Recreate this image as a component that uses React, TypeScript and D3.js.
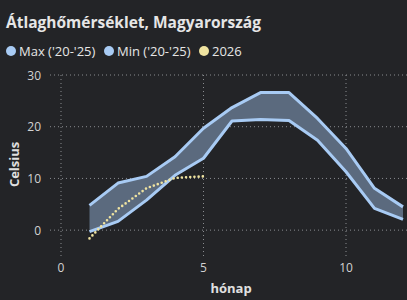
import React from "react";
import * as d3 from "d3";

const months = [1, 2, 3, 4, 5, 6, 7, 8, 9, 10, 11, 12];
const maxTemps = [4.8, 9.1, 10.4, 14.2, 19.7, 23.7, 26.6, 26.6, 21.6, 15.8, 8.1, 4.5];
const minTemps = [-0.3, 1.7, 5.8, 10.6, 13.9, 21.1, 21.4, 21.2, 17.4, 11.3, 4.2, 2.1];
const months2026 = [1, 2, 3, 4, 5];
const temps2026 = [-1.6, 4.1, 8.1, 10.1, 10.4];
const xTicks = [0, 5, 10];
const yTicks = [0, 10, 20, 30];
const legendItems = ["Max ('20-'25)", "Min ('20-'25)", "2026"];

const W = 407;
const H = 300;
const FONT = "'Open Sans', 'Segoe UI', sans-serif";
const BG = "#232427";
const LINE = "#a8cbf4";
const BAND = "#5b6a7e";
const YELLOW = "#efe3a0";
const GRID = "#8a8c90";
const TXT = "#d2d2d2";

export default function App() {
  const x = d3.scaleLinear().domain([0, 12]).range([61, 403]);
  const y = d3.scaleLinear().domain([-5, 30]).range([256, 75]);

  const area = d3
    .area<number>()
    .x((_, i) => x(months[i]))
    .y0((_, i) => y(minTemps[i]))
    .y1((_, i) => y(maxTemps[i]));
  const line = d3
    .line<number>()
    .x((_, i) => x(months[i]))
    .y((d) => y(d));
  const line26 = d3
    .line<number>()
    .x((_, i) => x(months2026[i]))
    .y((d) => y(d));

  const legendX = [11, 109, 204];
  const legendColors = [LINE, LINE, YELLOW];

  return (
    <svg width={W} height={H} style={{ position: "absolute", left: 0, top: 0, display: "block" }}>
      <rect width={W} height={H} fill={BG} />
      <text x={6} y={28} fill="#e6e6e6" fontFamily={FONT} fontWeight={700} fontSize={15.5}>
        Átlaghőmérséklet, Magyarország
      </text>
      {legendItems.map((t, i) => (
        <g key={t}>
          <circle cx={legendX[i]} cy={51} r={5} fill={legendColors[i]} />
          <text x={legendX[i] + 8} y={55.5} fill="#e6e6e6" fontFamily={FONT} fontSize={13}>
            {t}
          </text>
        </g>
      ))}
      {yTicks.map((t) => (
        <g key={"y" + t}>
          <line x1={50} x2={W} y1={y(t)} y2={y(t)} stroke={GRID} strokeWidth={1} strokeDasharray="1 3" />
          <text x={41} y={y(t) + 4.5} textAnchor="end" fill={TXT} fontFamily={FONT} fontSize={12}>
            {t}
          </text>
        </g>
      ))}
      {xTicks.map((t) => (
        <g key={"x" + t}>
          <line x1={x(t)} x2={x(t)} y1={75} y2={258} stroke={GRID} strokeWidth={1} strokeDasharray="1 3" />
          <text x={x(t)} y={272} textAnchor="middle" fill={TXT} fontFamily={FONT} fontSize={12}>
            {t}
          </text>
        </g>
      ))}
      <text
        transform={`translate(19,${y(10) - 14}) rotate(-90)`}
        textAnchor="middle"
        fill="#e0e0e0"
        fontFamily={FONT}
        fontWeight={700}
        fontSize={13}
      >
        Celsius
      </text>
      <text x={231} y={293} textAnchor="middle" fill="#e0e0e0" fontFamily={FONT} fontWeight={700} fontSize={13}>
        hónap
      </text>
      <path d={area(months) || ""} fill={BAND} />
      <path d={line(maxTemps) || ""} fill="none" stroke={LINE} strokeWidth={3} strokeLinejoin="round" />
      <path d={line(minTemps) || ""} fill="none" stroke={LINE} strokeWidth={3} strokeLinejoin="round" />
      <path
        d={line26(temps2026) || ""}
        fill="none"
        stroke={YELLOW}
        strokeWidth={2.6}
        strokeLinecap="round"
        strokeDasharray="0 4.2"
      />
    </svg>
  );
}
